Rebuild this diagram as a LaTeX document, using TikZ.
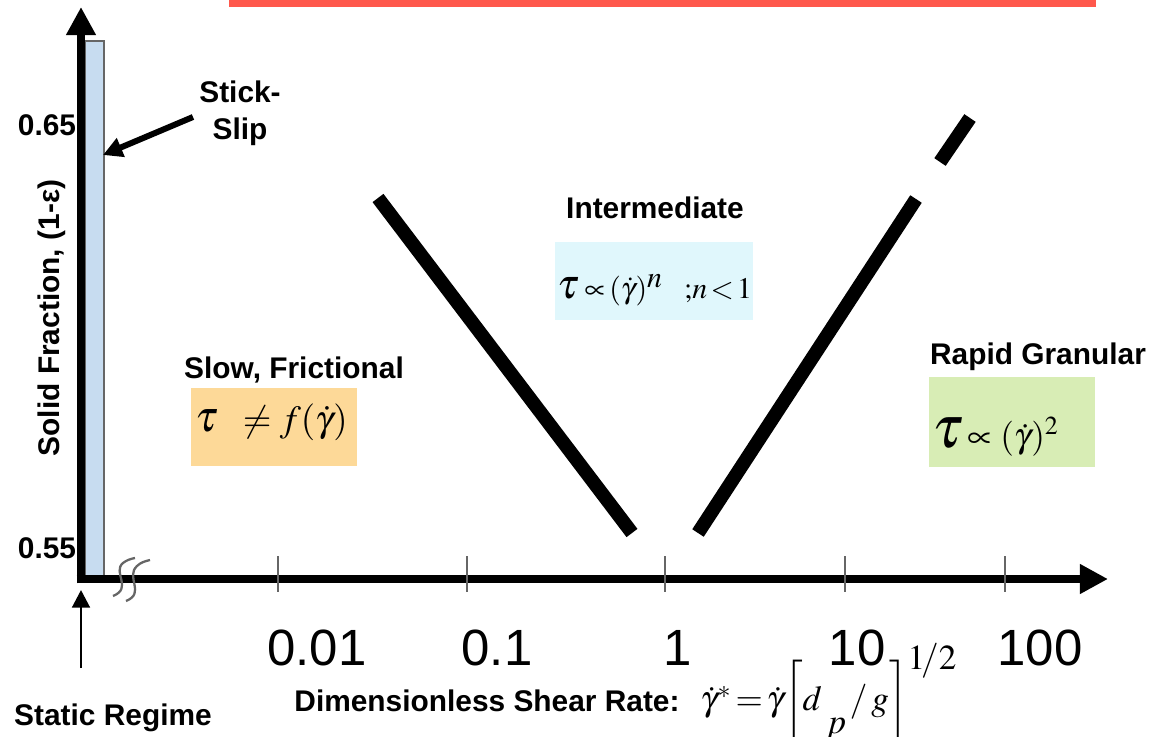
\documentclass[tikz,border=0pt]{standalone}
\usepackage{mathptmx}
\usepackage{fontspec}
\setmainfont{Liberation Sans}
\usetikzlibrary{arrows.meta}
\definecolor{topred}{RGB}{255,88,76}
\definecolor{barblue}{RGB}{199,220,240}
\definecolor{slowbox}{RGB}{253,217,152}
\definecolor{interbox}{RGB}{224,247,252}
\definecolor{rapidbox}{RGB}{216,237,181}
\tikzset{
  axis/.style={line width=4.5pt,-{Triangle[length=16pt,width=16pt]}},
  regime/.style={font=\fontsize{17}{21}\selectfont\bfseries,inner sep=0pt},
  ticklabel/.style={font=\fontsize{29}{32}\selectfont,inner sep=0pt},
  tickmark/.style={line width=1.2pt,black!60},
  boundary/.style={line width=7.8pt},
  lawbox/.style={inner sep=0pt,minimum height=1.58cm,minimum width=3.32cm},
  wavy/.style={line width=1.3pt,black!60}
}
\begin{document}
\begin{tikzpicture}[x=0.02cm,y=-0.02cm]
\useasboundingbox (0,0) rectangle (1153,737);
\fill[topred] (229,0) rectangle (1096,7);
\draw[fill=barblue,draw=black!60,line width=1pt] (85,41) rectangle (104,578);
\coordinate (origin) at (81,579);
\coordinate (ytip) at (81,7);
\coordinate (xtip) at (1108,579);
\draw[axis] ([yshift=-2.5pt]origin) -- (ytip);
\draw[axis] ([xshift=-2.5pt]origin) -- (xtip);
\draw[wavy] (113,596) .. controls (133,588) and (112,572) .. (123,563) .. controls (127,560) and (130,559) .. (135,558);
\draw[wavy] (126,601) .. controls (146,593) and (125,577) .. (137,566) .. controls (141,562) and (146,561) .. (150,560);
\foreach \x/\lab/\lx in {278/0.01/317,467/0.1/497,665/1/678,845/10/857,1005/100/1040}{
  \draw[tickmark] (\x,556) -- (\x,592);
  \node[ticklabel] (tick\lab) at (\lx,648) {\lab};
}
\node[regime] (ysixtyfive) at (47,125) {0.65};
\node[regime] (yfiftyfive) at (47,548) {0.55};
\node[regime,rotate=90] (ylabel) at (52,318) {Solid Fraction, (1-ε)};
\node[regime,align=center] (stickslip) at (240,113) {Stick-\\Slip};
\coordinate (slipbar) at (103,155);
\draw[line width=3.4pt,-{Triangle[length=11pt,width=11pt]}] ([shift={(-6,4)}]stickslip.west) -- (slipbar);
\node[regime] (static) at (113,718) {Static Regime};
\coordinate (statictail) at (81,668);
\coordinate (staticup) at (81,590);
\draw[line width=1.7pt,-{Triangle[length=10pt,width=10pt]}] (statictail) -- (staticup);
\draw[boundary] (378,198) -- (632,533);
\draw[boundary] (698,533) -- (916,199);
\draw[boundary] (940,162) -- (970,118);
\node[regime] (slow) at (294,370) {Slow, Frictional};
\node[lawbox,fill=slowbox] (slowlaw) at (274,427) {};
\node[anchor=west,inner sep=0pt] (slowtxt) at (195,422) {\fontsize{25}{28}\selectfont$\tau$\hspace{14pt}\fontsize{21}{24}\selectfont$\neq f(\dot\gamma)$};
\node[regime] (inter) at (655,208) {Intermediate};
\node[lawbox,fill=interbox,minimum width=3.96cm] (interlaw) at (654,281) {};
\node[anchor=west,inner sep=0pt] (intertxt) at (557,290) {\fontsize{24}{28}\selectfont$\tau$\hspace{3pt}\fontsize{17}{21}\selectfont$\propto\!(\dot\gamma)^{\textstyle n}$\hspace{12pt}$;\!n\mkern2mu{<}\mkern2mu1$};
\node[regime] (rapid) at (1038,357) {Rapid Granular};
\node[lawbox,fill=rapidbox,minimum height=1.8cm] (rapidlaw) at (1012,422) {};
\node[anchor=west,inner sep=0pt] (rapidtxt) at (932,437) {\fontsize{34}{38}\selectfont$\tau$\fontsize{20}{23}\selectfont$\,\propto(\dot\gamma)^{2}$};
\node[anchor=west,inner sep=0pt] (sheartxt) at (700,694) {\fontsize{20}{24}\selectfont$\dot\gamma^{*}\mkern2mu{=}\mkern2mu\dot\gamma\!\left[d\,\lower13pt\hbox{$p$}\,/\,g\right]^{\textstyle 1\!/2}$};
\node[regime] (shear) at (487,701) {Dimensionless Shear Rate:};
\end{tikzpicture}
\end{document}
